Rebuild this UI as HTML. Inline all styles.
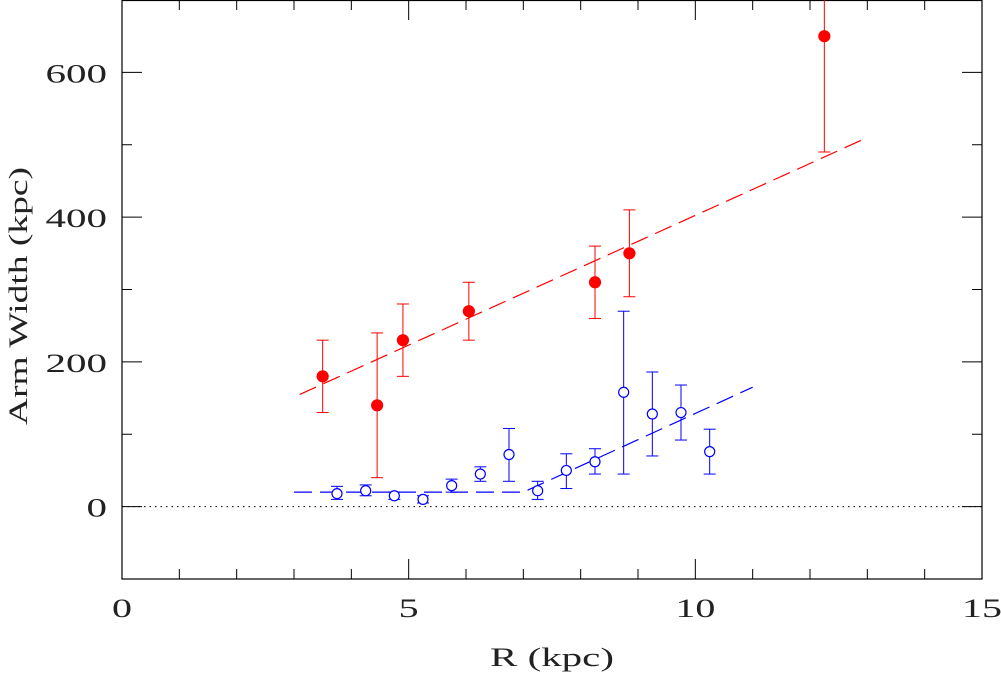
<!DOCTYPE html>
<html><head><meta charset="utf-8"><style>
html,body{margin:0;padding:0;background:#fff;}
svg{display:block;font-family:"Liberation Serif",serif;}
</style></head><body>
<svg id="chart" width="1001" height="673" viewBox="0 0 1001 673" xmlns="http://www.w3.org/2000/svg">
<g id="axes"></g><g id="marks"></g>
</svg>
<script>
const redR = [3.5, 4.45, 4.9, 6.05, 8.25, 8.85, 12.25];
const redW = [180, 140, 230, 270, 310, 350, 650];
const redLo = [130, 40, 180, 230, 260, 290, 490];
const redHi = [230, 240, 280, 310, 360, 410, 720];
const blueR = [3.75, 4.25, 4.75, 5.25, 5.75, 6.25, 6.75, 7.25, 7.75, 8.25, 8.75, 9.25, 9.75, 10.25];
const blueW = [18, 22, 15, 10, 29, 45, 72, 22, 50, 62, 158, 128, 130, 76];
const blueLo = [10, 15, 10, 5, 20, 35, 35, 10, 25, 45, 45, 70, 92, 45];
const blueHi = [28, 30, 20, 15, 38, 55, 108, 35, 73, 80, 270, 186, 168, 107];
const redFitX = [3.1, 13];
const redFitY = [155, 510];
const blueFitX = [3, 7, 11];
const blueFitY = [20, 20, 165];
const xTicks = [0, 5, 10, 15];
const yTicks = [0, 200, 400, 600];

const X0=122, X1=982, Y0=579, Y1=0;
const xs = v => X0 + (v-0)/15*(X1-X0);
const ys = v => Y0 - (v+100)/800*(Y0-Y1);
const NS="http://www.w3.org/2000/svg";
function mk(tag, attrs, parent){const e=document.createElementNS(NS,tag);for(const k in attrs)e.setAttribute(k,attrs[k]);parent.appendChild(e);return e;}
const ax=document.getElementById('axes'), mg=document.getElementById('marks');

const fr=mk('rect',{x:X0,y:Y1+0.5,width:X1-X0,height:Y0-Y1-0.5,fill:'none',stroke:'#000','stroke-width':1.2},ax);


for(let v=0;v<=15;v++){const major=v%5===0,L=major?20:10,x=xs(v);
 mk('line',{x1:x,y1:Y0,x2:x,y2:Y0-L,stroke:'#000'},ax);
 mk('line',{x1:x,y1:Y1,x2:x,y2:Y1+L,stroke:'#000'},ax);}
for(let v=-100;v<=700;v+=100){const major=v%200===0,L=major?20:10,y=ys(v);
 mk('line',{x1:X0,y1:y,x2:X0+L,y2:y,stroke:'#000'},ax);
 mk('line',{x1:X1,y1:y,x2:X1-L,y2:y,stroke:'#000'},ax);}
xTicks.forEach(v=>{const s=String(v);const t=mk('text',{x:xs(v),y:617,'text-anchor':'middle','font-size':26,fill:'#222',textLength:s.length*20,lengthAdjust:'spacingAndGlyphs'},ax);t.textContent=s;
 
 });
yTicks.forEach(v=>{const s=String(v);const t=mk('text',{x:107,y:ys(v)+10,'text-anchor':'end','font-size':26,fill:'#222',textLength:s.length*20.5,lengthAdjust:'spacingAndGlyphs'},ax);t.textContent=s;
 
 });
const xt=mk('text',{x:552,y:666,'text-anchor':'middle','font-size':26,fill:'#222',textLength:124,lengthAdjust:'spacingAndGlyphs'},ax);xt.textContent='R (kpc)';


const yt=mk('text',{x:0,y:0,'text-anchor':'middle','font-size':26,fill:'#222',textLength:258,lengthAdjust:'spacingAndGlyphs',transform:'translate(27,296) rotate(-90)'},ax);yt.textContent='Arm Width (kpc)';


const zl=mk('line',{x1:X0,y1:ys(0),x2:X1,y2:ys(0),stroke:'#000','stroke-dasharray':'1.5,4'},ax);



function fit(xa,ya,col,name){const p=mk('polyline',{points:xa.map((x,i)=>xs(x)+','+ys(ya[i])).join(' '),fill:'none',stroke:col,'stroke-width':1.2,'stroke-dasharray':'18,8'},mg);
 
 }
fit(redFitX,redFitY,'#f00','red-fit-line');
fit(blueFitX,blueFitY,'#00f','blue-fit-line');

function pts(R,W,Lo,Hi,col,filled,name){R.forEach((r,i)=>{const x=xs(r);
 const g=mk('g',{},mg);
 
 
 mk('line',{x1:x,y1:ys(Lo[i]),x2:x,y2:Math.max(0,ys(Hi[i])),stroke:col},g);
 mk('line',{x1:x-6,y1:ys(Lo[i]),x2:x+6,y2:ys(Lo[i]),stroke:col},g);
 if(ys(Hi[i])>0)mk('line',{x1:x-6,y1:ys(Hi[i]),x2:x+6,y2:ys(Hi[i]),stroke:col},g);
 mk('circle',{cx:x,cy:ys(W[i]),r:filled?5.5:5,fill:filled?col:'#fff',stroke:col,'stroke-width':1.2},g);});}
pts(redR,redW,redLo,redHi,'#f00',true,'red-point');
pts(blueR,blueW,blueLo,blueHi,'#00f',false,'blue-point');
</script>
</body></html>
